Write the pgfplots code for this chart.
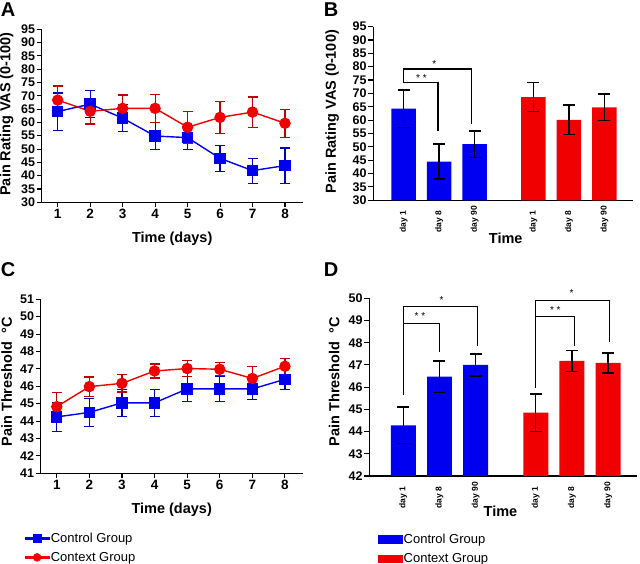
\documentclass[border=0pt]{standalone}
\usepackage{fontspec}
\setmainfont{Liberation Sans}
\usepackage{pgfplots}
\pgfplotsset{compat=1.18}

\definecolor{cblue}{RGB}{0,0,240}
\definecolor{cred}{RGB}{240,0,0}

\pgfplotsset{
  panel/.style={
    scale only axis, anchor=south west,
    axis x line*=bottom, axis y line*=left,
    axis line style={line width=1.3pt, -},
    tick align=outside, major tick length=5pt,
    tick style={line width=1.1pt, black},
    /pgf/number format/assume math mode=true,
    tick label style={font=\bfseries\fontsize{12.5}{13}\selectfont, inner sep=1.5pt},
    label style={font=\bfseries\fontsize{14.5}{16}\selectfont},
  },
  linepanel/.style={
    panel, xmin=0.507, xmax=8.545, xtick={1,...,8},
    xticklabel style={font=\bfseries\fontsize{13.5}{14}\selectfont},
    xlabel={Time (days)},
    xlabel style={at={(axis description cs:0.5,-0.208)}, anchor=center},
  },
  barpanel/.style={
    panel, clip mode=individual,
    xtick={1,2,3,4.66,5.66,6.66},
    xticklabels={day 1,day 8,day 90,day 1,day 8,day 90},
    xtick style={draw=none},
    xticklabel style={yshift=-29pt, rotate=90, anchor=west, font=\bfseries\fontsize{8.5}{9}\selectfont},
    xlabel={Time},
  },
  ctrl/.style={cblue, line width=1.4pt, mark=square*, mark size=5pt,
    mark options={solid, fill=cblue, draw=cblue},
    error bars/.cd, y dir=both, y explicit,
    error bar style={line width=1.2pt, blue!75!black},
    error mark options={rotate=90, mark size=5pt, line width=1.2pt, blue!75!black}},
  ctxt/.style={cred, line width=1.4pt, mark=*, mark size=5pt,
    mark options={solid, fill=cred, draw=cred},
    error bars/.cd, y dir=both, y explicit,
    error bar style={line width=1.2pt, red!75!black},
    error mark options={rotate=90, mark size=5pt, line width=1.2pt, red!75!black}},
  barplot/.style={forget plot, ybar, bar width=0.69, bar shift=0pt, draw=none, fill=#1,
    error bars/.cd, y dir=both, y explicit,
    error bar style={line width=1.4pt, black},
    error mark options={rotate=90, mark size=6pt, line width=1.4pt, black}},
}

\begin{document}
\begin{tikzpicture}
\path[use as bounding box] (0pt,0pt) rectangle (640pt,564pt);

% panel letters
\node[font=\bfseries\fontsize{20}{20}\selectfont] at (8pt,554pt) {A};
\node[font=\bfseries\fontsize{20}{20}\selectfont] at (331pt,554pt) {B};
\node[font=\bfseries\fontsize{20}{20}\selectfont] at (8pt,294pt) {C};
\node[font=\bfseries\fontsize{20}{20}\selectfont] at (331pt,294pt) {D};

% ---------- A ----------
\begin{axis}[linepanel, at={(41.7pt,361.7pt)}, width=261pt, height=173pt,
  ymin=30, ymax=95, ytick={30,35,...,95},
  ylabel={Pain Rating VAS (0-100)},
  ylabel style={at={(axis description cs:-0.134,0.51)}, anchor=center},
  legend image code/.code={\fill[#1] (0pt,-1pt) rectangle (24pt,1pt); \path[#1] plot[only marks] coordinates {(12pt,0pt)};},
  legend style={draw=none, fill=none, at={(axis description cs:-0.065,-1.9)}, anchor=north west,
    font=\fontsize{13}{14}\selectfont, row sep=5.5pt, inner sep=0pt, nodes={inner sep=1.5pt}},
  legend cell align=left]
\addplot[forget plot, ctrl] coordinates {
  (1,64.1) +- (0,7.0) (2,66.9) +- (0,5.0) (3,61.6) +- (0,5.0) (4,54.9) +- (0,5.2)
  (5,54.3) +- (0,4.5) (6,46.5) +- (0,4.8) (7,41.9) +- (0,4.7) (8,43.8) +- (0,6.6)};
\addplot[forget plot, ctxt] coordinates {
  (1,68.4) +- (0,5.3) (2,64.2) +- (0,4.8) (3,65.3) +- (0,5.0) (4,65.3) +- (0,5.2)
  (5,58.2) +- (0,6.0) (6,61.9) +- (0,6.1) (7,63.9) +- (0,5.7) (8,59.7) +- (0,5.3)};
\addlegendimage{cblue, mark=square*, mark size=3.7pt, mark options={fill=cblue}}
\addlegendentry{Control Group}
\addlegendimage{cred, mark=*, mark size=4pt, mark options={fill=cred}}
\addlegendentry{Context Group}
\end{axis}

% ---------- B ----------
\begin{axis}[barpanel, at={(373.3pt,363.7pt)}, width=259.7pt, height=173.7pt,
  xmin=0.142, xmax=7.468,
  ymin=30, ymax=95, ytick={30,35,...,95},
  ylabel={Pain Rating VAS (0-100)},
  ylabel style={at={(axis description cs:-0.158,0.51)}, anchor=center},
  xlabel style={at={(axis description cs:0.51,-0.218)}, anchor=center},
  legend image code/.code={\fill[#1] (0pt,-3.7pt) rectangle (24pt,3.7pt);},
  legend style={draw=none, fill=none, at={(axis description cs:0.0165,-1.91)}, anchor=north west,
    font=\fontsize{13}{14}\selectfont, row sep=5.5pt, inner sep=0pt, nodes={inner sep=1.5pt}},
  legend cell align=left]
\addplot[barplot=cblue] coordinates {(1,64.3) +- (0,7.0) (2,44.5) +- (0,6.5) (3,51.0) +- (0,5.0)};
\addplot[barplot=cred] coordinates {(4.66,68.6) +- (0,5.4) (5.66,60.1) +- (0,5.5) (6.66,64.8) +- (0,5.0)};
\draw[line width=1.3pt] (axis cs:1.97,55.9) |- (axis cs:1,74.0) |- (axis cs:2.91,79.1) -- (axis cs:2.91,58.6);
\node[font=\fontsize{10}{10}\selectfont] at (axis cs:1.5,75.6) {* *};
\node[font=\fontsize{10}{10}\selectfont] at (axis cs:1.86,81.0) {*};
\addlegendimage{cblue}
\addlegendentry{Control Group}
\addlegendimage{cred}
\addlegendentry{Context Group}
\end{axis}

% ---------- C ----------
\begin{axis}[linepanel, at={(40.7pt,90.7pt)}, width=262pt, height=174pt,
  ymin=41, ymax=51, ytick={41,...,51},
  ylabel={Pain Threshold \ \textdegree C},
  ylabel style={at={(axis description cs:-0.13,0.525)}, anchor=center}]
\addplot[ctrl] coordinates {
  (1,44.24) +- (0,0.85) (2,44.50) +- (0,0.80) (3,45.05) +- (0,0.78) (4,45.05) +- (0,0.78)
  (5,45.85) +- (0,0.72) (6,45.85) +- (0,0.72) (7,45.85) +- (0,0.62) (8,46.40) +- (0,0.60)};
\addplot[ctxt] coordinates {
  (1,44.83) +- (0,0.82) (2,45.98) +- (0,0.55) (3,46.17) +- (0,0.50) (4,46.88) +- (0,0.40)
  (5,47.02) +- (0,0.45) (6,46.98) +- (0,0.38) (7,46.45) +- (0,0.68) (8,47.15) +- (0,0.47)};
\end{axis}

% ---------- D ----------
\begin{axis}[barpanel, at={(369.3pt,88pt)}, width=267.7pt, height=177.7pt,
  xmin=0.061, xmax=7.456,
  ymin=42, ymax=50, ytick={42,...,50},
  ylabel={Pain Threshold \ \textdegree C},
  ylabel style={at={(axis description cs:-0.131,0.53)}, anchor=center},
  xlabel style={at={(axis description cs:0.49,-0.2)}, anchor=center}]
\addplot[barplot=cblue] coordinates {(1,44.28) +- (0,0.83) (2,46.47) +- (0,0.70) (3,47.00) +- (0,0.50)};
\addplot[barplot=cred] coordinates {(4.66,44.85) +- (0,0.85) (5.66,47.18) +- (0,0.48) (6.66,47.09) +- (0,0.45)};
\draw[line width=1.3pt] (axis cs:1,45.65) -- (axis cs:1,49.63) -- (axis cs:3.05,49.63) -- (axis cs:3.05,47.83);
\draw[line width=1.3pt] (axis cs:1,48.88) -- (axis cs:2,48.88) -- (axis cs:2,47.6);
\draw[line width=1.3pt] (axis cs:4.66,45.95) -- (axis cs:4.66,49.9) -- (axis cs:6.70,49.9) -- (axis cs:6.70,48.05);
\draw[line width=1.3pt] (axis cs:4.66,49.18) -- (axis cs:5.72,49.18) -- (axis cs:5.72,47.86);
\node[font=\fontsize{10}{10}\selectfont] at (axis cs:1.46,49.2) {* *};
\node[font=\fontsize{10}{10}\selectfont] at (axis cs:2.06,49.9) {*};
\node[font=\fontsize{10}{10}\selectfont] at (axis cs:5.2,49.48) {* *};
\node[font=\fontsize{10}{10}\selectfont] at (axis cs:5.65,50.22) {*};
\end{axis}
\end{tikzpicture}
\end{document}
